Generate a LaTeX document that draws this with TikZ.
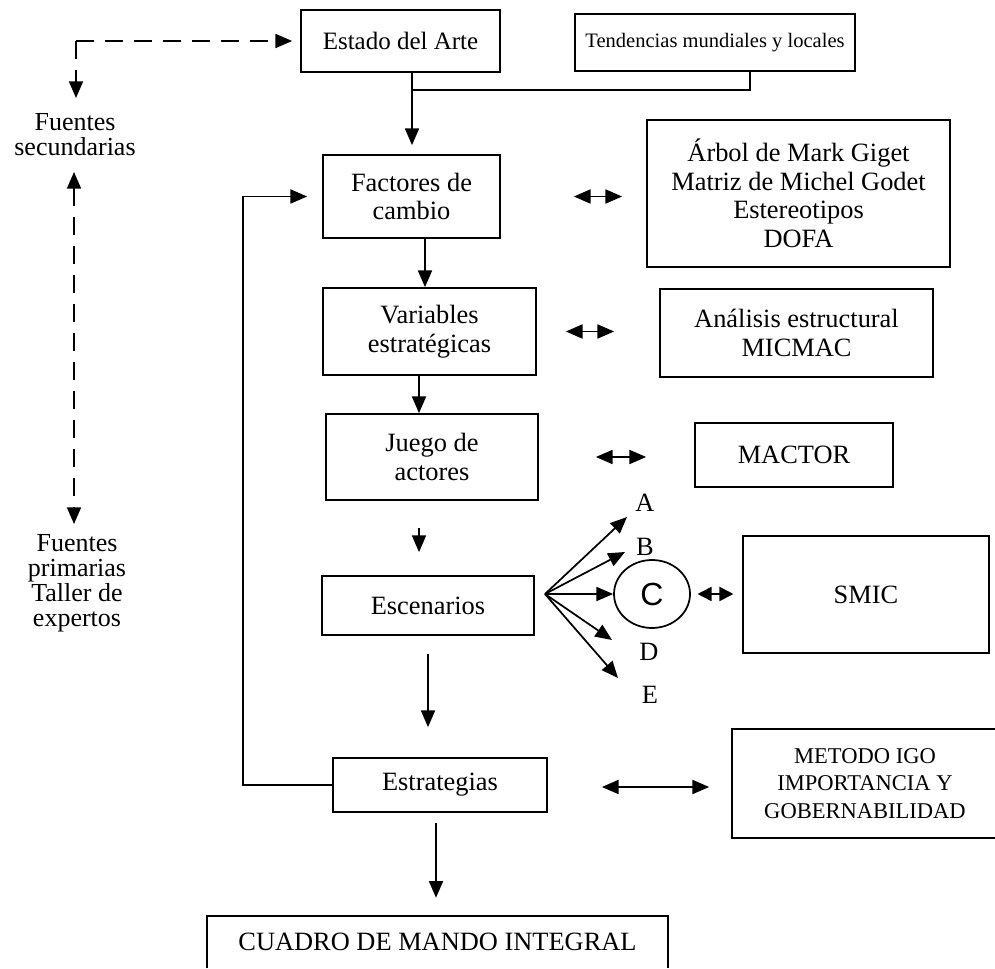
\documentclass[tikz,border=0pt]{standalone}
\usepackage{fontspec}
\setmainfont{Liberation Serif}
\newfontfamily\circfont{Liberation Sans}
\usetikzlibrary{arrows.meta,calc,shapes.geometric}

% type sizes used in the flow chart
\newcommand\bigtxt{\fontsize{19.8pt}{21.4pt}\selectfont}
\newcommand\esttxt{\fontsize{18.75pt}{21pt}\selectfont}
\newcommand\tendtxt{\fontsize{15.4pt}{18pt}\selectfont}
\newcommand\igotxt{\fontsize{16.9pt}{20.6pt}\selectfont}
\newcommand\srctxt{\fontsize{19.5pt}{18.75pt}\selectfont}
\newcommand\circtxt{\circfont\fontsize{24pt}{28pt}\selectfont}

\begin{document}
\begin{tikzpicture}[x=0.75pt,y=-0.75pt,
  line/.style={line width=1.3pt},
  tip/.tip={Triangle[length=12.5pt,width=10.5pt]},
  shorttip/.tip={Triangle[length=10.5pt,width=10.5pt]},
  arr/.style={line,-tip},
  dbl/.style={line,tip-tip},
  sdbl/.style={line,shorttip-shorttip},
  dashpat/.style={dash pattern=on 13.5pt off 8.25pt},
  darr/.style={arr,dashpat},
  ddbl/.style={dbl,dashpat},
  sz/.style 2 args={minimum width=#1*0.75pt,minimum height=#2*0.75pt},
  box/.style={draw,line width=1.3pt,inner sep=0pt,align=center,font=\bigtxt},
  lbl/.style={inner sep=0pt,align=center,font=\bigtxt}]

\useasboundingbox (0,0) rectangle (995,969);
\clip (0,0) rectangle (995,969);

% ---- main chain
\node[box,sz={199}{62},font=\esttxt] (estado) at (400.5,41) {Estado del Arte};
\node[box,sz={280}{57},font=\tendtxt] (tend) at (715,42.5) {Tendencias mundiales y locales};
\node[box,sz={177}{83}] (factores) at (411.5,196.5) {Factores de\\cambio};
\node[box,sz={213}{87}] (variables) at (429.5,331.5) {Variables\\estratégicas};
\node[box,sz={212}{86}] (juego) at (432,457) {Juego de\\actores};
\node[box,sz={212}{59}] (escen) at (428,605.5) {Escenarios};
\node[box,sz={214}{54}] (estrat) at (440,785) {Estrategias};
\node[lbl,sz={461}{52}] (cuadro) at (437.5,942) {CUADRO DE MANDO INTEGRAL};
\draw[line] (cuadro.south west) -- (cuadro.north west) -- (cuadro.north east) -- (cuadro.south east);

% ---- methods
\node[box,sz={303}{147}] (arbol) at (798.5,193.5)
  {Árbol de Mark Giget\\Matriz de Michel Godet\\Estereotipos\\DOFA};
\node[box,sz={273}{88}] (analisis) at (796.5,333) {Análisis estructural\\MICMAC};
\node[box,sz={198}{64}] (mactor) at (794,455) {MACTOR};
\node[box,sz={246}{117}] (smic) at (866,594.5) {SMIC};
\node[box,sz={266}{109},font=\igotxt] (metodo) at (865,783.5)
  {METODO IGO\\IMPORTANCIA Y\\GOBERNABILIDAD};

% ---- scenario fan
\node[draw,ellipse,line width=1.3pt,sz={76}{68},inner sep=0pt,font=\circtxt] (cc) at (652,594) {C};
\node[lbl] (la) at (645,503) {A};
\node[lbl] (lb) at (645,547) {B};
\node[lbl] (ld) at (649,652) {D};
\node[lbl] (le) at (650,695) {E};

% ---- sources
\node[lbl,font=\srctxt] (fsec) at (75,135) {Fuentes\\secundarias};
\node[lbl,font=\srctxt] (fprim) at (77,583) {Fuentes\\primarias\\Taller de\\expertos};

% ---- connector points
\coordinate (ea) at ($(estado.south)+(11.5,0)$);
\coordinate (tb) at ($(tend.south)+(35,0)$);
\coordinate (jn) at (412,90);
\coordinate (fv) at ($(factores.south)+(13.5,0)$);
\coordinate (vj) at ($(variables.south)+(-10.5,0)$);
\coordinate (js) at ($(juego.south)+(-13,0)$);
\coordinate (sc) at ($(estrat.south)+(-4,0)$);
\coordinate (dc) at (76,41);
\coordinate (ds) at (76,98);
\coordinate (d1) at (74,172);
\coordinate (d2) at (74,524);
\coordinate (fan) at (545,594);
\coordinate (ta) at (627,517);
\coordinate (tb2) at (625,552);
\coordinate (td) at (612,640);
\coordinate (te) at (618,678);

% ---- vertical flow
\draw[line] (tb) |- (jn);
\draw[arr,shorten >=6.75pt] (ea) -- (ea |- factores.north);
\draw[arr] (fv) -- (fv |- variables.north);
\draw[arr] (vj) -- (vj |- juego.north);
\draw[arr,shorten <=20.25pt,shorten >=17.25pt] (js) -- (js |- escen.north);
\draw[arr,shorten <=13.5pt,shorten >=22.5pt] (escen.south) -- (escen.south |- estrat.north);
\draw[arr,shorten <=7.5pt,shorten >=13.5pt] (sc) -- (sc |- cuadro.north);

% ---- feedback loop
\draw[arr,shorten >=11.25pt] (estrat.west) -- ++(-89,0) |- (factores.west);

% ---- links to methods
\draw[dbl,shorten <=54.75pt,shorten >=18pt] (factores.east) -- (factores.east -| arbol.west);
\draw[dbl,shorten <=21.75pt,shorten >=33.75pt] (variables.east) -- (variables.east -| analisis.west);
\draw[dbl,shorten <=42.75pt,shorten >=36pt] (juego.east) -- (juego.east -| mactor.west);
\draw[sdbl,shorten <=5pt,shorten >=6.5pt] (cc.east) -- (cc.east -| smic.west);
\draw[dbl,shorten <=40.5pt,shorten >=16.5pt] ($(estrat.east)+(0,2)$) -- ($(estrat.east -| metodo.west)+(0,2)$);

% ---- scenario fan arrows
\draw[arr] (fan) -- (ta);
\draw[arr] (fan) -- (tb2);
\draw[arr] (fan) -- (cc.west);
\draw[arr] (fan) -- (td);
\draw[arr] (fan) -- (te);

% ---- sources (dashed)
\draw[darr,shorten >=6pt] (dc) -- (dc -| estado.west);
\draw[darr] (dc) -- (ds);
\draw[ddbl] (d1) -- (d2);

\end{tikzpicture}
\end{document}
